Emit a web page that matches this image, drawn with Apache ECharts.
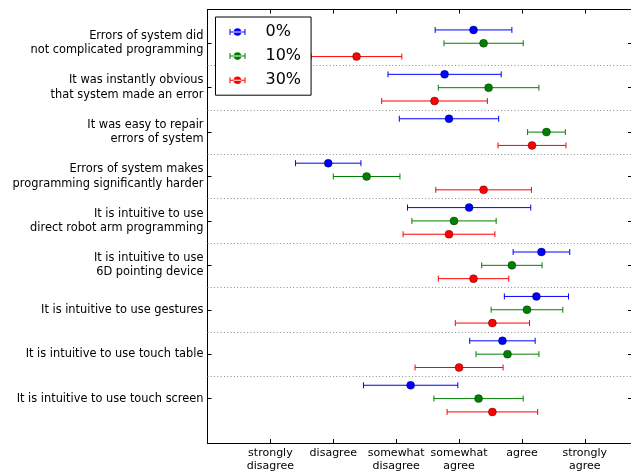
<!DOCTYPE html>
<html>
<head>
<meta charset="utf-8">
<script src="https://cdn.jsdelivr.net/npm/echarts@6/dist/echarts.min.js"></script>
<style>
  html, body { margin: 0; padding: 0; background: #fff; }
  #chart { width: 631px; height: 472px; }
</style>
</head>
<body>
<div id="chart"></div>
<script>
// Questionnaire statements, listed top to bottom
const statements = [
  'Errors of system did\nnot complicated programming',
  'It was instantly obvious\nthat system made an error',
  'It was easy to repair\nerrors of system',
  'Errors of system makes\nprogramming significantly harder',
  'It is intuitive to use\ndirect robot arm programming',
  'It is intuitive to use\n6D pointing device',
  'It is intuitive to use gestures',
  'It is intuitive to use touch table',
  'It is intuitive to use touch screen'
];

// Likert scale, 1..6
const likertLabels = ['strongly\ndisagree', 'disagree', 'somewhat\ndisagree', 'somewhat\nagree', 'agree', 'strongly\nagree'];

// Error-rate groups
const groups = ['0%', '10%', '30%'];
const groupColors = ['#0000ff', '#008000', '#ff0000'];

// Mean answers and their spread for each group (same order as statements)
const mean0  = [4.23, 3.77, 3.84, 1.92, 4.16, 5.31, 5.23, 4.69, 3.23];
const err0   = [0.61, 0.90, 0.79, 0.52, 0.98, 0.45, 0.51, 0.52, 0.75];
const mean10 = [4.39, 4.47, 5.39, 2.53, 3.92, 4.84, 5.08, 4.77, 4.31];
const err10  = [0.63, 0.80, 0.30, 0.53, 0.67, 0.48, 0.57, 0.50, 0.71];
const mean30 = [2.37, 3.61, 5.16, 4.39, 3.84, 4.23, 4.53, 4.00, 4.53];
const err30  = [0.72, 0.84, 0.54, 0.76, 0.73, 0.56, 0.59, 0.70, 0.72];

const means = [mean0, mean10, mean30];
const errs = [err0, err10, err30];
const groupOffsets = [0.3, 0, -0.3];

const n = statements.length;
const rowY = i => n - 1 - i;                       // top statement sits highest
const separators = statements.slice(1).map((s, i) => rowY(i) - 0.5);

const FONT = 'DejaVu Sans';

function errorBarItem(color) {
  return function (params, api) {
    const y = api.value(1);
    const lo = api.coord([api.value(0) - api.value(2), y]);
    const hi = api.coord([api.value(0) + api.value(2), y]);
    const cap = 3;
    const style = { stroke: color, lineWidth: 1, fill: null };
    return {
      type: 'group',
      children: [
        { type: 'line', shape: { x1: lo[0], y1: lo[1], x2: hi[0], y2: hi[1] }, style: style },
        { type: 'line', shape: { x1: lo[0], y1: lo[1] - cap, x2: lo[0], y2: lo[1] + cap }, style: style },
        { type: 'line', shape: { x1: hi[0], y1: hi[1] - cap, x2: hi[0], y2: hi[1] + cap }, style: style }
      ]
    };
  };
}

// Legend glyph: horizontal error bar with caps and a dot in the middle
const errIcon = 'path://M0,1h1v6h-1z M15,1h1v6h-1z M0,3.5h16v1h-16z M8,0.2a3.8,3.8 0 1,0 0.001,0z';

const series = [];
groups.forEach((g, k) => {
  const pts = statements.map((s, i) => [means[k][i], rowY(i) + groupOffsets[k], errs[k][i]]);
  series.push({
    name: g,
    type: 'custom',
    renderItem: errorBarItem(groupColors[k]),
    itemStyle: { color: groupColors[k] },
    encode: { x: 0, y: 1 },
    data: pts,
    z: 2
  });
  const scatter = {
    name: g,
    type: 'scatter',
    symbol: 'circle',
    symbolSize: 8,
    itemStyle: { color: groupColors[k], borderColor: 'rgba(0,0,0,0.55)', borderWidth: 0.6, opacity: 1 },
    data: pts.map(p => [p[0], p[1]]),
    z: 3
  };
  if (k === 0) {
    scatter.markLine = {
      silent: true,
      symbol: 'none',
      label: { show: false },
      lineStyle: { color: '#8c8c8c', width: 1, type: [1, 2.3] },
      data: separators.map(v => ({ yAxis: v }))
    };
  }
  series.push(scatter);
});

const xMin = 0, xMax = 6.75, yMin = -1, yMax = 8.76;

const frameLine = { show: true, onZero: false, lineStyle: { color: '#000', width: 1 } };
const innerTick = { show: true, inside: true, length: 4, lineStyle: { color: '#000' } };

const chart = echarts.init(document.getElementById('chart'), null, { renderer: 'canvas' });
chart.setOption({
  animation: false,
  backgroundColor: '#fff',
  grid: { left: 207.5, top: 9.5, width: 424.5, height: 433.5, containLabel: false, outerBoundsMode: 'none' },
  legend: {
    orient: 'vertical',
    left: 215.5,
    top: 17,
    padding: [7, 10, 7, 14],
    itemWidth: 16,
    itemHeight: 8,
    itemGap: 8.1,
    itemTextGap: 5,
    borderColor: '#000',
    borderWidth: 1,
    backgroundColor: '#fff',
    data: groups.map((g, k) => ({ name: g, icon: errIcon, itemStyle: { color: groupColors[k] } })),
    textStyle: { fontFamily: FONT, fontSize: 16, lineHeight: 16, color: '#000', padding: [0, 0, 0, 15] },
    z: 10
  },
  xAxis: [
    {
      type: 'value', position: 'bottom', min: xMin, max: xMax, interval: 1,
      axisLine: frameLine, axisTick: innerTick, splitLine: { show: false },
      axisLabel: {
        margin: 4, fontFamily: FONT, fontSize: 11, lineHeight: 12.5, color: '#000',
        formatter: v => (Number.isInteger(v) && v >= 1 && v <= 6) ? likertLabels[v - 1] : ''
      }
    },
    {
      type: 'value', position: 'top', min: xMin, max: xMax, interval: 1,
      axisLine: frameLine, axisTick: innerTick, splitLine: { show: false },
      axisLabel: { show: false }
    }
  ],
  yAxis: [
    {
      type: 'value', position: 'left', min: yMin, max: yMax, interval: 1,
      axisLine: frameLine, axisTick: innerTick, splitLine: { show: false },
      axisLabel: {
        margin: 4, fontFamily: FONT, fontSize: 11.4, lineHeight: 14.3, color: '#000', align: 'right',
        formatter: v => (Number.isInteger(v) && v >= 0 && v < n) ? statements[n - 1 - v] : ''
      }
    },
    {
      type: 'value', position: 'right', min: yMin, max: yMax, interval: 1,
      axisLine: frameLine, axisTick: innerTick, splitLine: { show: false },
      axisLabel: { show: false }
    }
  ],
  series: series
});
</script>
</body>
</html>
